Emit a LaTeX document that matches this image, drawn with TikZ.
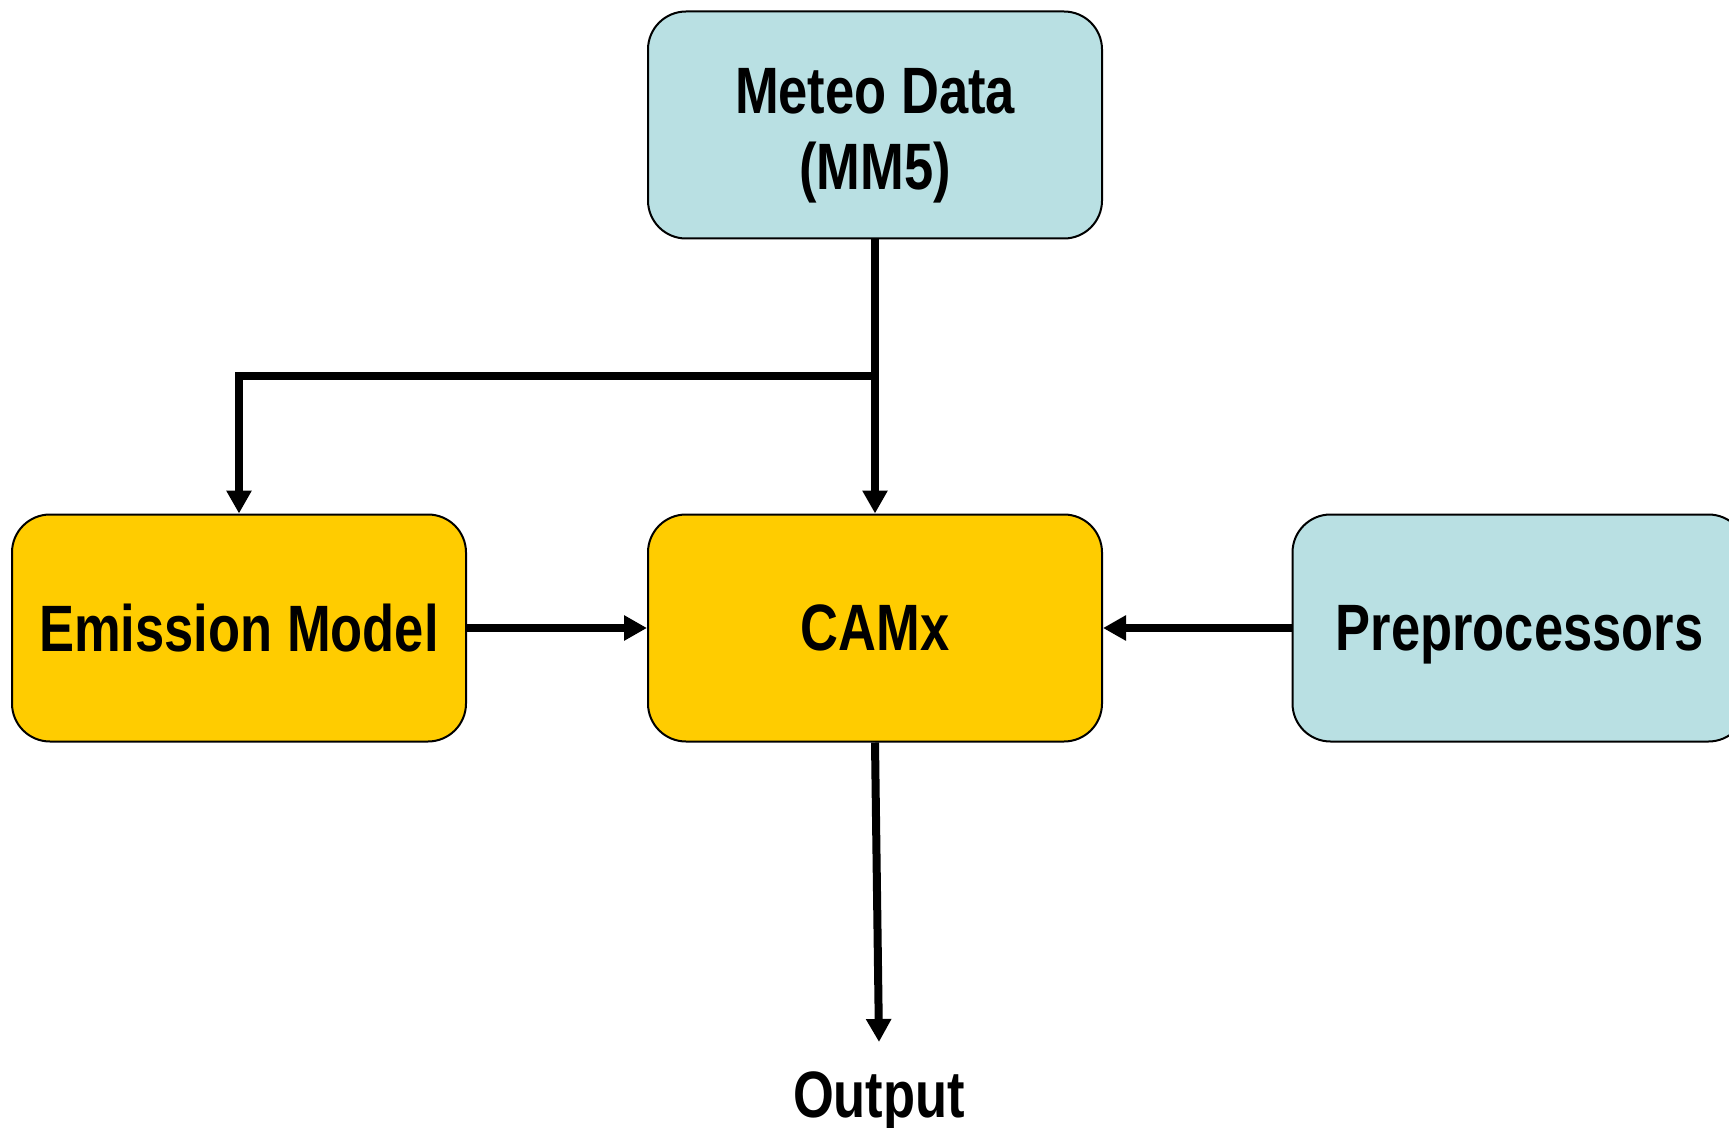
\documentclass[tikz,border=0pt]{standalone}
\usepackage{fontspec}
\setmainfont{Liberation Sans}[FakeStretch=0.8]
\usetikzlibrary{arrows.meta}
\definecolor{paleblue}{RGB}{185,224,227}
\definecolor{gold}{RGB}{255,204,0}
\tikzset{
  box/.style={draw=black, line width=1pt, rounded corners=19pt,
    minimum width=227pt, minimum height=113.5pt, inner sep=0pt,
    text depth=0pt,
    align=center, font=\fontsize{32.8}{38}\selectfont\bfseries},
  meteo/.style={box, fill=paleblue},
  model/.style={box, fill=gold},
  arr/.style={line width=4pt, line join=miter,
    -{Triangle[length=11.5pt,width=12pt]}},
  lbl/.style={font=\fontsize{32.8}{38}\selectfont\bfseries, inner sep=0pt}
}
\begin{document}
\begin{tikzpicture}[x=0.5pt,y=-0.5pt]
  \useasboundingbox (0,0) rectangle (1729,1128);
  \clip (0,0) rectangle (1729,1128);
  % boxes
  \node[meteo] (met) at (875,125) {\rule{0pt}{27pt}Meteo Data\\(MM5)};
  \node[model] (emis) at (239,628) {Emission Model};
  \node[model] (camx) at (875,628) {CAMx};
  \node[meteo] (pre) at (1519.5,628) {Preprocessors};
  \node[lbl, anchor=north, outer sep=15pt] (out) at (879,1042) {Output};
  % connectors
  \coordinate (split) at (875,376);
  \draw[arr] (met.south) -- (split) -| (emis.north);
  \draw[arr] (met.south) -- (camx.north);
  \draw[arr] (emis.east) -- (camx.west);
  \draw[arr] (pre.west) -- (camx.east);
  \draw[arr] (camx.south) -- (out.north);
\end{tikzpicture}
\end{document}
